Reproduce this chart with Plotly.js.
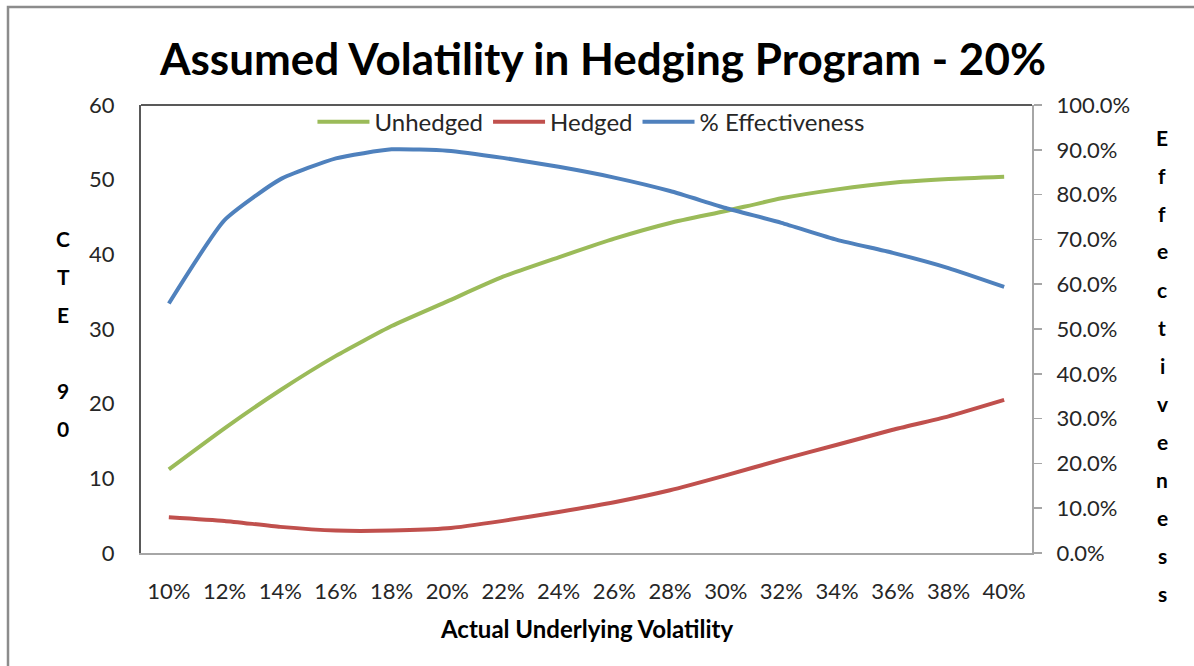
<!DOCTYPE html>
<html>
<head>
<meta charset="utf-8">
<script src="https://cdn.plot.ly/plotly-3.0.1.min.js"></script>
<style>
  html, body { margin: 0; padding: 0; background: #fff; }
  #chart { width: 1194px; height: 666px; }
</style>
</head>
<body>
<div id="chart"></div>
<script>
// categories (actual underlying volatility)
var vols = ['10%', '12%', '14%', '16%', '18%', '20%', '22%', '24%',
  '26%', '28%', '30%', '32%', '34%', '36%', '38%', '40%'];

// CTE 90, left axis
var unhedged = [11.2, 16.7, 21.8, 26.4, 30.4, 33.7, 37.0, 39.6,
  42.1, 44.2, 45.8, 47.5, 48.7, 49.6, 50.1, 50.4];
var hedged = [4.8, 4.3, 3.5, 3.0, 3.0, 3.3, 4.3, 5.5,
  6.8, 8.4, 10.4, 12.5, 14.5, 16.5, 18.3, 20.5];

// % effectiveness, right axis
var effectiveness = [0.557, 0.743, 0.834, 0.881, 0.901, 0.898, 0.882, 0.862,
  0.838, 0.808, 0.770, 0.737, 0.699, 0.670, 0.636, 0.594];

var leftTitle = 'CTE 90';
var rightTitle = 'Effectiveness';

var font = 'Lato, "Open Sans", sans-serif';

var traces = [
  {
    x: vols, y: unhedged, name: 'Unhedged', type: 'scatter', mode: 'lines',
    line: {color: '#9BBB59', width: 4, shape: 'spline', smoothing: 0.5}
  },
  {
    x: vols, y: hedged, name: 'Hedged', type: 'scatter', mode: 'lines',
    line: {color: '#C0504D', width: 4, shape: 'spline', smoothing: 0.5}
  },
  {
    x: vols, y: effectiveness, name: '% Effectiveness', type: 'scatter', mode: 'lines',
    yaxis: 'y2',
    line: {color: '#4F81BD', width: 4, shape: 'spline', smoothing: 0.5}
  }
];

// stacked letters for the axis titles
var annotations = [];
function stacked(text, x, yStartPx, stepPx) {
  text.split('').forEach(function (ch, i) {
    if (ch === ' ') return;
    annotations.push({
      xref: 'paper', yref: 'paper', x: x, y: (553 - (yStartPx + i * stepPx)) / 448,
      text: ch, showarrow: false, xanchor: 'center', yanchor: 'middle',
      font: {family: font, size: 21, color: '#000', weight: 'bold'}
    });
  });
}
stacked(leftTitle, (63 - 141) / 891, 238, 38);
stacked(rightTitle, (1162 - 141) / 891, 137, 38);

annotations.push({
  xref: 'paper', yref: 'paper', x: (587 - 141) / 891, y: (553 - 628) / 448,
  text: 'Actual Underlying Volatility', showarrow: false,
  xanchor: 'center', yanchor: 'middle',
  font: {family: font, size: 24, color: '#000', weight: 'bold'}
});

var layout = {
  width: 1194,
  height: 666,
  margin: {l: 141, r: 162, t: 105, b: 113},
  paper_bgcolor: '#fff',
  plot_bgcolor: '#fff',
  font: {family: font, size: 22, color: '#262626'},
  title: {
    text: '<b>Assumed Volatility in Hedging Program - 20%</b>',
    x: 0.505, xanchor: 'center', y: 1 - 60 / 666, yanchor: 'middle',
    font: {family: font, size: 44, color: '#000'}
  },
  showlegend: true,
  legend: {
    orientation: 'h', x: 0.505, xanchor: 'center', y: 1.012, yanchor: 'top',
    bgcolor: 'rgba(0,0,0,0)', font: {family: font, size: 24, color: '#262626'},
    itemwidth: 52, tracegroupgap: 0
  },
  xaxis: {
    type: 'category', range: [-0.5, 15.5], showgrid: false, zeroline: false,
    showline: true, linecolor: '#a6a6a6', linewidth: 2,
    ticks: '', ticklabelstandoff: 18, fixedrange: true
  },
  yaxis: {
    range: [0, 60], dtick: 10, showgrid: false, zeroline: false,
    showline: true, linecolor: '#595959', linewidth: 2,
    ticks: '', ticklabelstandoff: 20, fixedrange: true
  },
  yaxis2: {
    overlaying: 'y', side: 'right', range: [0, 1], dtick: 0.1, tickformat: '.1%',
    showgrid: false, zeroline: false, showline: true, linecolor: '#a6a6a6', linewidth: 2,
    ticks: 'outside', ticklen: 8, tickcolor: '#a6a6a6', tickwidth: 1.5,
    ticklabelstandoff: 10, fixedrange: true
  },
  shapes: [
    // top edge of the plot area
    {type: 'line', xref: 'paper', yref: 'paper', x0: 0, x1: 1, y0: 1, y1: 1,
      line: {color: '#595959', width: 2}},
    // chart border
    {type: 'rect', xref: 'paper', yref: 'paper',
      x0: (8 - 141) / 891, x1: 1.3, y0: -0.4, y1: (553 - 7) / 448,
      line: {color: '#8c8c8c', width: 2.5}}
  ],
  annotations: annotations
};

Plotly.newPlot('chart', traces, layout, {displayModeBar: false, staticPlot: true});
</script>
</body>
</html>
